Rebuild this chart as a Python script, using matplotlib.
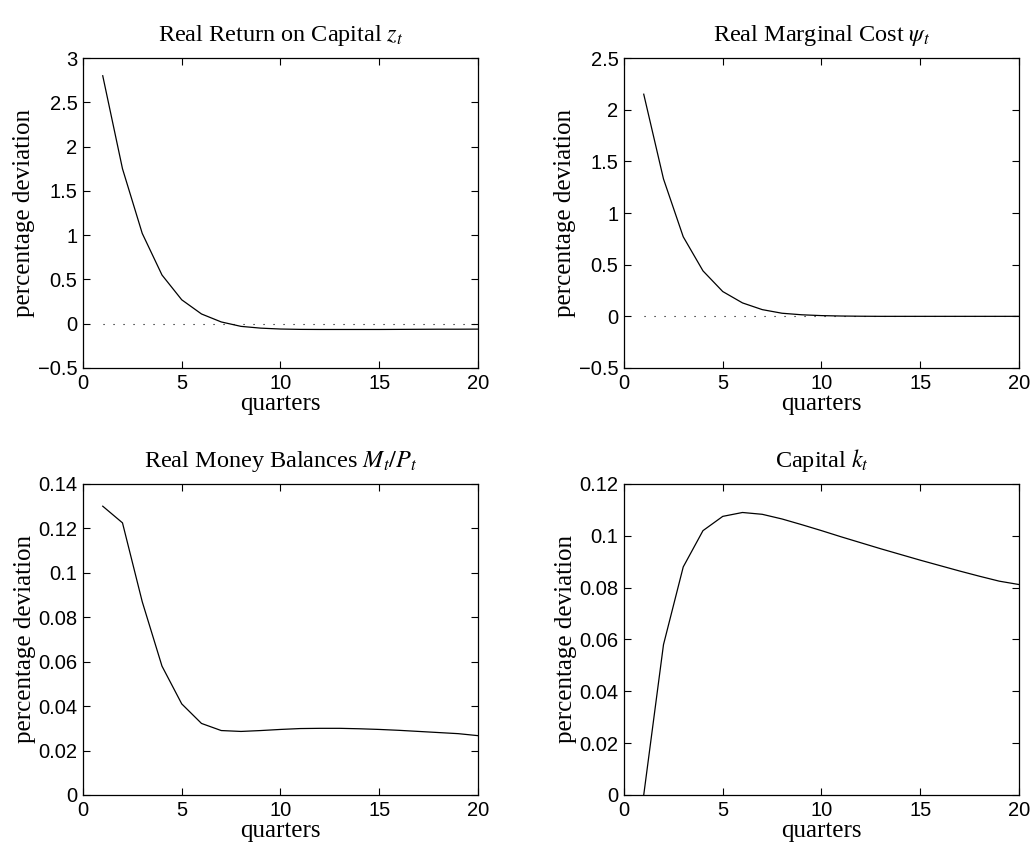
import numpy as np
import matplotlib
matplotlib.use("Agg")
import matplotlib.pyplot as plt

plt.rcParams['mathtext.fontset'] = 'stix'

quarters = np.arange(1, 21)

# impulse responses
z_t = [2.80, 1.75, 1.02, 0.55, 0.27, 0.11, 0.02, -0.03, -0.05, -0.060,
       -0.064, -0.065, -0.065, -0.065, -0.065, -0.064, -0.063, -0.062, -0.062, -0.061]
psi_t = [2.15, 1.33, 0.77, 0.44, 0.24, 0.13, 0.065, 0.03, 0.015, 0.007,
         0.003, 0.001, 0.0, 0.0, 0.0, 0.0, 0.0, 0.0, 0.0, 0.0]
m_p = [0.130, 0.1225, 0.087, 0.058, 0.041, 0.0322, 0.0290, 0.0286, 0.0290, 0.0295,
       0.0299, 0.0300, 0.0300, 0.0298, 0.0295, 0.0291, 0.0286, 0.0281, 0.0276, 0.0267]
k_t = [0.0, 0.058, 0.088, 0.102, 0.1075, 0.109, 0.1083, 0.1065, 0.1043, 0.1020,
       0.0996, 0.0973, 0.0950, 0.0928, 0.0906, 0.0885, 0.0864, 0.0844, 0.0825, 0.0812]

titles = ['Real Return on Capital $z_t$', r'Real Marginal Cost $\psi_t$',
          'Real Money Balances $M_t/P_t$', 'Capital $k_t$']
series = [z_t, psi_t, m_p, k_t]
ylims = [(-0.5, 3), (-0.5, 2.5), (0, 0.14), (0, 0.12)]
yticks = [np.arange(-0.5, 3.01, 0.5), np.arange(-0.5, 2.51, 0.5),
          np.arange(0, 0.141, 0.02), np.arange(0, 0.121, 0.02)]
zero_line = [True, True, False, False]

fig = plt.figure(figsize=(10.36, 8.56), dpi=100)
positions = [[0.0801, 0.5701, 0.3813, 0.3621], [0.6023, 0.5701, 0.3813, 0.3621],
             [0.0801, 0.0713, 0.3813, 0.3633], [0.6023, 0.0713, 0.3813, 0.3633]]

for i in range(4):
    ax = fig.add_axes(positions[i])
    ax.plot(quarters, series[i], color='black', linewidth=0.9)
    if zero_line[i]:
        ax.plot(quarters, np.zeros(len(quarters)), color='black',
                linewidth=0.8, linestyle=(0, (1, 8)))
    ax.set_xlim(0, 20)
    ax.set_ylim(*ylims[i])
    ax.set_xticks([0, 5, 10, 15, 20])
    ax.set_yticks(yticks[i])
    ax.set_yticklabels([('%g' % round(v, 2)).replace('-', '\u2212') for v in yticks[i]])
    ax.tick_params(direction='in', top=True, right=True, length=5, width=0.8,
                   labelsize=14.5, pad=4)
    for lab in ax.get_xticklabels() + ax.get_yticklabels():
        lab.set_fontfamily('Liberation Sans')
    for sp in ax.spines.values():
        sp.set_linewidth(0.9)
    ax.set_title(titles[i], fontfamily='Liberation Serif', fontsize=17.5, pad=12)
    ax.set_xlabel('quarters', fontfamily='Liberation Serif', fontsize=18, labelpad=0)
    ax.set_ylabel('percentage deviation', fontfamily='Liberation Serif', fontsize=18, labelpad=2)

plt.savefig('out.png', dpi=100)
